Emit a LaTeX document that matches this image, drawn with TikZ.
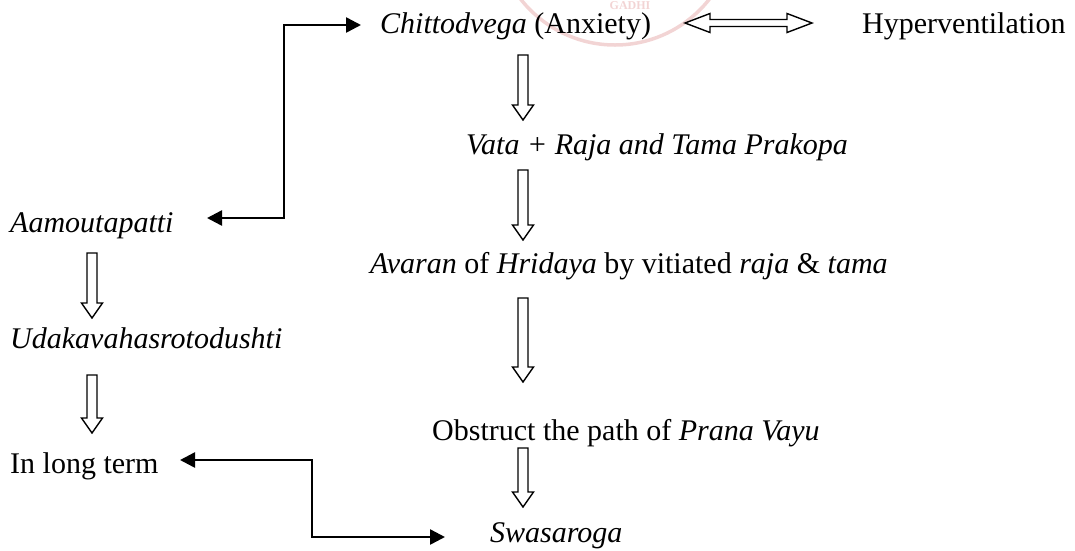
\documentclass[tikz,border=0pt]{standalone}
\usepackage{fontspec}
\setmainfont{Liberation Serif}
\usetikzlibrary{arrows.meta,calc}
\definecolor{wmark}{RGB}{242,212,212}
\begin{document}
\begin{tikzpicture}[x=1pt,y=-1pt,
  lbl/.style={anchor=base west,inner sep=0pt,font=\fontsize{30}{36}\selectfont},
  hollowdown/.style={line width=1.4pt,line join=miter,
    to path={let \p1=(\tikztostart),\p2=(\tikztotarget) in
      (\x1-5pt,\y1) -- (\x1-5pt,\y2+15pt) -- (\x1-10.5pt,\y2+15pt) -- (\x1,\y2)
      -- (\x1+10.5pt,\y2+15pt) -- (\x1+5pt,\y2+15pt) -- (\x1+5pt,\y1) -- cycle}},
  hollowboth/.style={line width=1.4pt,line join=miter,
    to path={let \p1=(\tikztostart),\p2=(\tikztotarget) in
      (\x1,\y1) -- (\x1+25pt,\y1+9.5pt) -- (\x1+25pt,\y1+3.5pt) -- (\x2-25pt,\y1+3.5pt)
      -- (\x2-25pt,\y1+9.5pt) -- (\x2,\y1) -- (\x2-25pt,\y1-9.5pt) -- (\x2-25pt,\y1-3.5pt)
      -- (\x1+25pt,\y1-3.5pt) -- (\x1+25pt,\y1-9.5pt) -- cycle}},
  elbow/.style={line width=2.5pt,{Triangle[length=15pt,width=15pt]}-{Triangle[length=15pt,width=15pt]}}
]
\useasboundingbox (0,0) rectangle (1075,550);
% faint watermark
\draw[wmark,line width=3.5pt] (615,-75) circle[radius=120];
\node[text=wmark,inner sep=0pt,font=\bfseries\fontsize{12}{12}\selectfont] (wm) at (630,6) {GADHI};

% right column
\node[lbl] (chitto) at (380,33) {\textit{Chittodvega} (Anxiety)};
\node[lbl] (hyper) at (862,33) {Hyperventilation};
\node[lbl] (vata) at (466,154) {\textit{Vata + Raja and Tama Prakopa}};
\node[lbl] (avaran) at (370,273) {\textit{Avaran} of \textit{Hridaya} by vitiated \textit{raja} \& \textit{tama}};
\node[lbl] (obstr) at (432,440) {Obstruct the path of \textit{Prana Vayu}};
\node[lbl] (swasa) at (490,542) {\textit{Swasaroga}};

% left column
\node[lbl] (aamou) at (10,232) {\textit{Aamoutapatti}};
\node[lbl] (udaka) at (10,348) {\textit{Udakavahasrotodushti}};
\node[lbl] (longt) at (10,473) {In long term};

% hollow arrow end points
\coordinate (a1s) at (523,55);  \coordinate (a1e) at (523,120);
\coordinate (a2s) at (523,170); \coordinate (a2e) at (523,240);
\coordinate (a3s) at (523,298); \coordinate (a3e) at (523,382);
\coordinate (a4s) at (523,448); \coordinate (a4e) at (523,507);
\coordinate (l1s) at (92,253);  \coordinate (l1e) at (92,318);
\coordinate (l2s) at (92,375);  \coordinate (l2e) at (92,433);
\coordinate (hl) at (685,23);   \coordinate (hr) at (812,23);

\draw[hollowdown] (a1s) to (a1e);
\draw[hollowdown] (a2s) to (a2e);
\draw[hollowdown] (a3s) to (a3e);
\draw[hollowdown] (a4s) to (a4e);
\draw[hollowdown] (l1s) to (l1e);
\draw[hollowdown] (l2s) to (l2e);
\draw[hollowboth] (hl) to (hr);

% elbow connectors
\coordinate (e1a) at (207,218); \coordinate (e1b) at (361,25);
\coordinate (e2a) at (180,460); \coordinate (e2b) at (445,537);
\draw[elbow] (e1a) -- ++(77,0) |- (e1b);
\draw[elbow] (e2a) -- ++(132,0) |- (e2b);
\end{tikzpicture}
\end{document}
